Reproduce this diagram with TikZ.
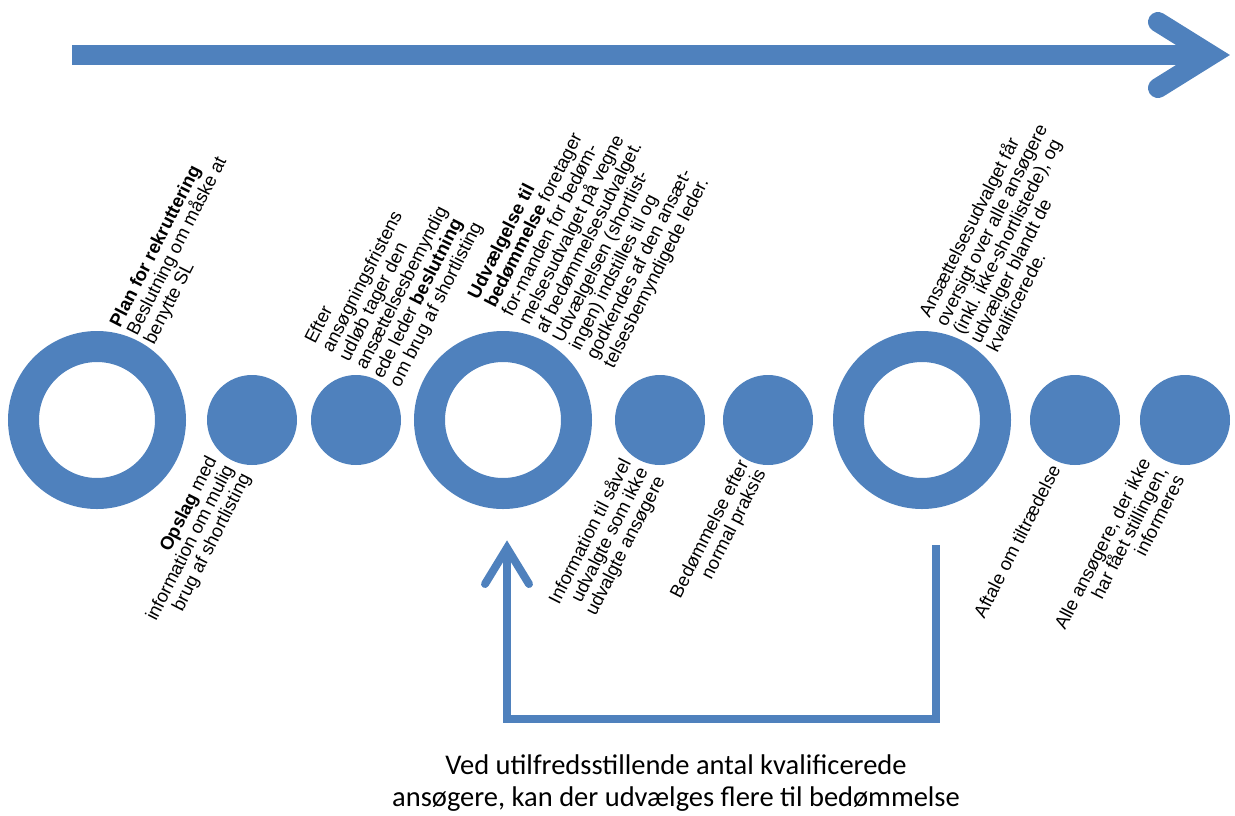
\documentclass[tikz,border=0pt]{standalone}
\usepackage{fontspec}
\setmainfont{Liberation Sans}
\newfontfamily\calibri{Carlito}
\usetikzlibrary{calc}
\definecolor{accent}{HTML}{4F81BD}
\newcommand\labelfont{\fontsize{18.5}{19}\selectfont\lineskiplimit=-20pt\relax}
\newcommand\notefont{\calibri\fontsize{28.5}{32}\selectfont}
\begin{document}
\begin{tikzpicture}[x=1pt,y=-1pt,
  ring/.style={circle, draw=accent, line width=31pt, minimum size=147pt, inner sep=0pt},
  dot/.style={circle, fill=accent, minimum size=90pt, inner sep=0pt},
  lbl/.style={rotate=63, inner sep=0pt, text=black, font=\labelfont},
  toplabel/.style={lbl, anchor=north west, align=left},
  botlabel/.style={lbl, anchor=north east, align=right},
  flowline/.style={draw=accent, line width=20pt},
  backline/.style={draw=accent, line width=8pt},
]
\useasboundingbox (0,0) rectangle (1235,815);

% time line arrow
\draw[flowline] (72,55) -- (1205,55);
\draw[flowline, line cap=round, line join=miter] (1158,22) -- (1211,55) -- (1158,88);

% milestones
\node[ring] (r1) at (97,420) {};
\node[dot]  (d1) at (252,420) {};
\node[dot]  (d2) at (356,420) {};
\node[ring] (r2) at (503,420) {};
\node[dot]  (d3) at (660,420) {};
\node[dot]  (d4) at (768,420) {};
\node[ring] (r3) at (922,420) {};
\node[dot]  (d5) at (1075,420) {};
\node[dot]  (d6) at (1185,420) {};

% labels above
\node[toplabel] (t1) at (108,322) {\textbf{Plan for rekruttering}\\Beslutning om måske at\\benytte  SL};
\node[toplabel] (t2) at (303,339) {Efter\\ansøgningsfristens\\udløb tager den\\ansættelsesbemyndig\\ede leder \textbf{beslutning}\\om brug af shortlisting};
\node[toplabel] (t3) at (466,294) {\textbf{Udvælgelse  til}\\\textbf{bedømmelse} foretager\\for-manden for bedøm-\\melsesudvalget på vegne\\af bedømmelsesudvalget.\\Udvælgelsen (shortlist-\\ingen) indstilles til og\\godkendes af den ansæt-\\telsesbemyndigede leder.};
\node[toplabel] (t4) at (916,312) {Ansættelsesudvalget får\\oversigt over alle ansøgere\\(inkl. ikke-shortlistede), og\\udvælger blandt de\\kvalificerede.};

% labels below
\node[botlabel] (b1) at (205,454) {\textbf{Opslag} med\\information om mulig\\brug af shortlisting};
\node[botlabel] (b2) at (618,456) {Information til såvel\\udvalgte som ikke\\udvalgte ansøgere};
\node[botlabel] (b3) at (737,458) {Bedømmelse efter\\normal praksis};
\node[botlabel] (b4) at (1049,463) {Aftale om tiltrædelse};
\node[botlabel] (b5) at (1139,456) {Alle ansøgere, der ikke\\har fået stillingen,\\informeres};

% loop back from the third ring to the second
\coordinate (loopa) at ($(r3.center)+(14,125)$);
\coordinate (loopb) at ($(r2.center)+(4,128)$);
\draw[backline] (loopa) -- (loopa |- 0,719) -- (loopb |- 0,719) -- (loopb);
\draw[backline, line cap=round, line join=miter] ($(loopb)+(-22,36)$) -- (loopb) -- ($(loopb)+(22,36)$);

\node[font=\notefont, align=center, anchor=base] (note) at (676,806)
  {Ved utilfredsstillende antal kvalificerede\\ansøgere, kan der udvælges flere til bedømmelse};
\end{tikzpicture}
\end{document}
